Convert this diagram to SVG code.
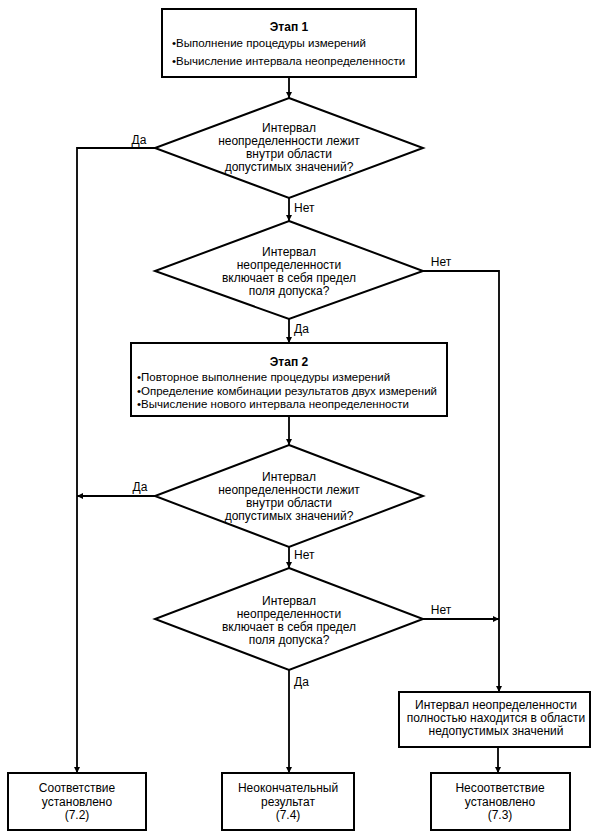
<svg xmlns="http://www.w3.org/2000/svg" width="605" height="836" viewBox="0 0 605 836">
<style>
  text { font-family: "Liberation Sans", Arial, sans-serif; font-size: 12px; fill: #000; }
  .c { text-anchor: middle; }
  .b { font-weight: bold; }
  .s { font-size: 11.5px; }
  .box { fill: #fff; stroke: #000; stroke-width: 2; }
  .ln { fill: none; stroke: #000; stroke-width: 1.8; }
</style>
<defs>
  <marker id="ah" viewBox="0 0 10 10" refX="10" refY="5" markerWidth="6" markerHeight="7" markerUnits="userSpaceOnUse" orient="auto">
    <path d="M0,0 L10,5 L0,10 Z" fill="#000"/>
  </marker>
</defs>
<rect width="605" height="836" fill="#fff"/>

<g id="connectors">
  <path class="ln" d="M289,77 V98" marker-end="url(#ah)"/>
  <path class="ln" d="M155,148 H77 V773" marker-end="url(#ah)"/>
  <path class="ln" d="M289,198 V221" marker-end="url(#ah)"/>
  <path class="ln" d="M423,271 H499 V692" marker-end="url(#ah)"/>
  <path class="ln" d="M289,319 V343" marker-end="url(#ah)"/>
  <path class="ln" d="M289,416 V445" marker-end="url(#ah)"/>
  <path class="ln" d="M155,496 H77" marker-end="url(#ah)"/>
  <path class="ln" d="M289,547 V568" marker-end="url(#ah)"/>
  <path class="ln" d="M423,619 H499" marker-end="url(#ah)"/>
  <path class="ln" d="M289,670 V773" marker-end="url(#ah)"/>
  <path class="ln" d="M498,747 V773" marker-end="url(#ah)"/>
  <text x="139" y="144" class="c">Да</text>
  <text x="294" y="212">Нет</text>
  <text x="441" y="266" class="c">Нет</text>
  <text x="294" y="333">Да</text>
  <text x="140" y="491" class="c">Да</text>
  <text x="294" y="559">Нет</text>
  <text x="441" y="614" class="c">Нет</text>
  <text x="294" y="686">Да</text>
</g>

<g id="stage1">
  <rect class="box" x="162" y="9" width="254" height="68"/>
  <text x="289" y="31" class="c b">Этап 1</text>
  <text x="172" y="47" class="s">•Выполнение процедуры измерений</text>
  <text x="172" y="65" class="s">•Вычисление интервала неопределенности</text>
</g>

<g id="decision1">
  <polygon class="box" points="289,98 423,148 289,198 155,148"/>
  <text x="289" y="132" class="c">Интервал</text>
  <text x="289" y="145" class="c">неопределенности лежит</text>
  <text x="289" y="158" class="c">внутри области</text>
  <text x="289" y="171" class="c">допустимых значений?</text>
</g>

<g id="decision2">
  <polygon class="box" points="289,221 423,271 289,319 155,271"/>
  <text x="289" y="256" class="c">Интервал</text>
  <text x="289" y="269" class="c">неопределенности</text>
  <text x="289" y="282" class="c">включает в себя предел</text>
  <text x="289" y="295" class="c">поля допуска?</text>
</g>

<g id="stage2">
  <rect class="box" x="131" y="343" width="316" height="73"/>
  <text x="289" y="366" class="c b">Этап 2</text>
  <text x="137" y="381" class="s">•Повторное выполнение процедуры измерений</text>
  <text x="137" y="395" class="s">•Определение комбинации результатов двух измерений</text>
  <text x="137" y="408" class="s">•Вычисление нового интервала неопределенности</text>
</g>

<g id="decision3">
  <polygon class="box" points="289,445 423,496 289,547 155,496"/>
  <text x="289" y="481" class="c">Интервал</text>
  <text x="289" y="494" class="c">неопределенности лежит</text>
  <text x="289" y="507" class="c">внутри области</text>
  <text x="289" y="520" class="c">допустимых значений?</text>
</g>

<g id="decision4">
  <polygon class="box" points="289,568 423,619 289,670 155,619"/>
  <text x="289" y="605" class="c">Интервал</text>
  <text x="289" y="618" class="c">неопределенности</text>
  <text x="289" y="631" class="c">включает в себя предел</text>
  <text x="289" y="644" class="c">поля допуска?</text>
</g>

<g id="outside">
  <rect class="box" x="399" y="692" width="191" height="55"/>
  <text x="496" y="709" class="c">Интервал неопределенности</text>
  <text x="496" y="722" class="c">полностью находится в области</text>
  <text x="496" y="735" class="c">недопустимых значений</text>
</g>

<g id="conform">
  <rect class="box" x="8" y="773" width="138" height="57"/>
  <text x="77" y="792" class="c">Соответствие</text>
  <text x="77" y="806" class="c">установлено</text>
  <text x="77" y="819" class="c">(7.2)</text>
</g>

<g id="inconclusive">
  <rect class="box" x="222" y="773" width="132" height="57"/>
  <text x="288" y="792" class="c">Неокончательный</text>
  <text x="288" y="806" class="c">результат</text>
  <text x="288" y="819" class="c">(7.4)</text>
</g>

<g id="nonconform">
  <rect class="box" x="431" y="773" width="139" height="57"/>
  <text x="500" y="792" class="c">Несоответствие</text>
  <text x="500" y="806" class="c">установлено</text>
  <text x="500" y="819" class="c">(7.3)</text>
</g>
</svg>
